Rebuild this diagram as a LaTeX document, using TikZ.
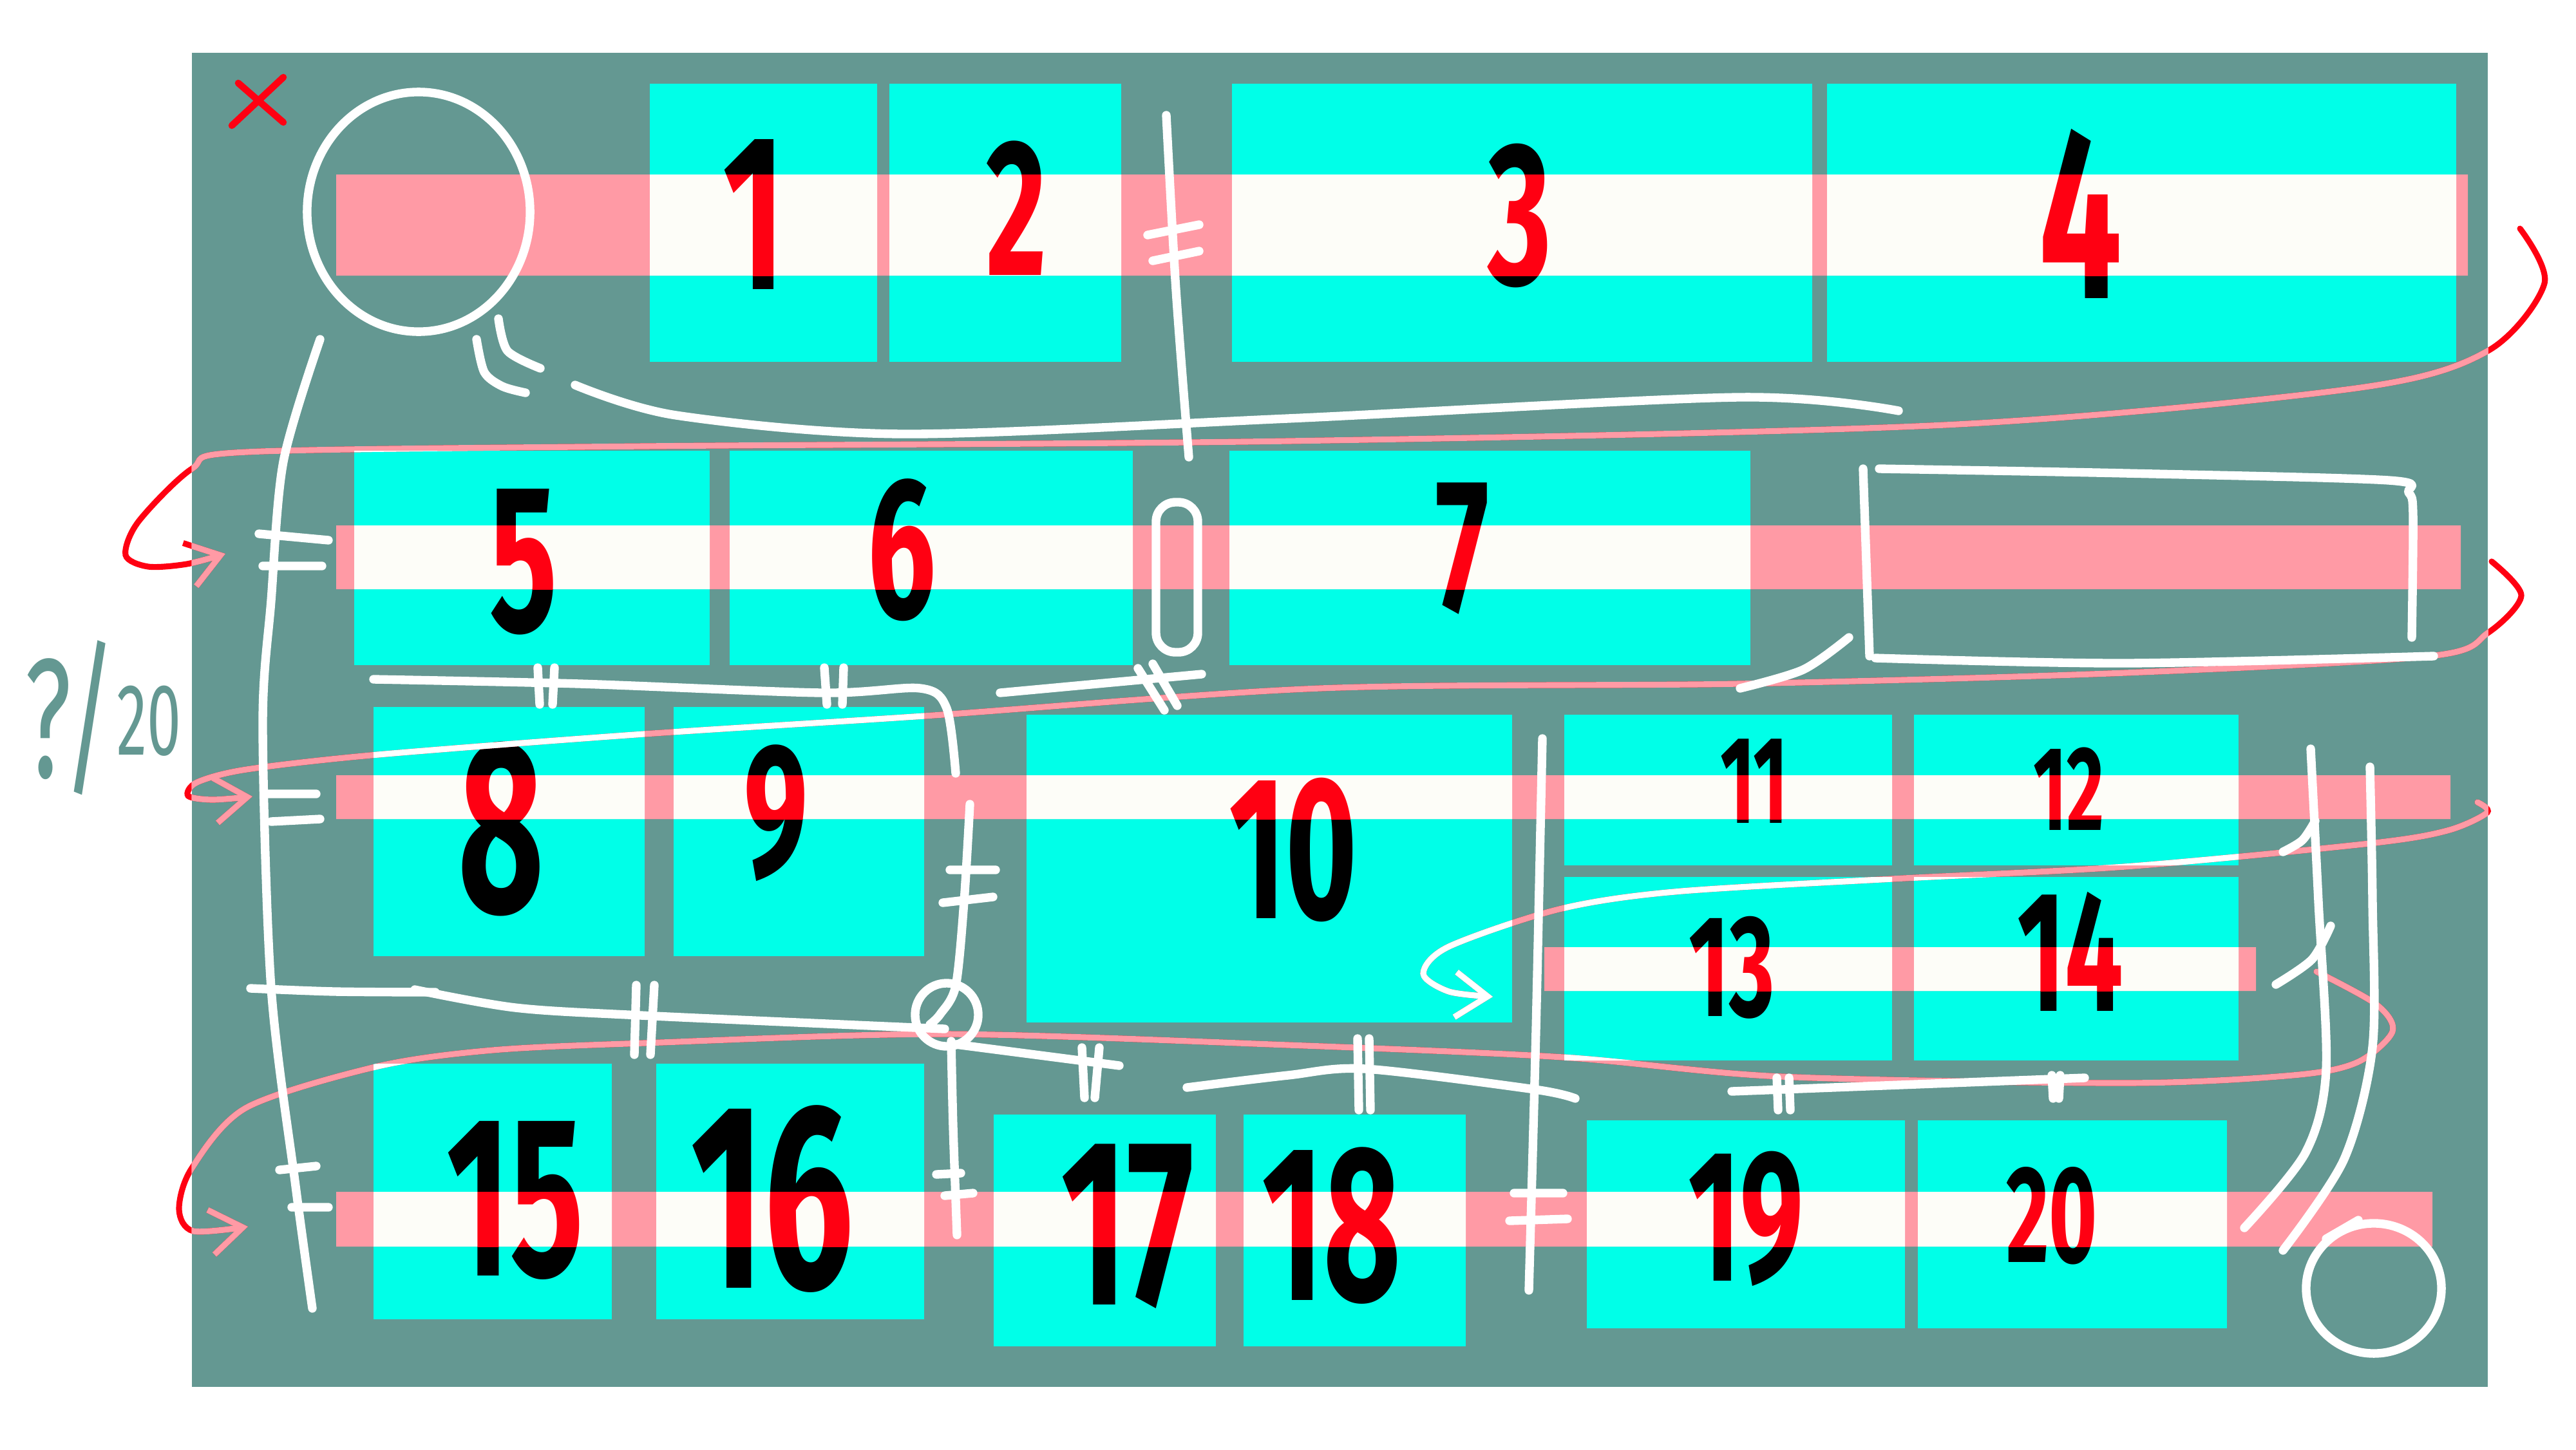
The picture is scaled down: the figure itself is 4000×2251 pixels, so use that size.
\documentclass[tikz,border=0pt]{standalone}
\usepackage{fontspec}
\setmainfont{Fira Sans}
\newfontfamily\handfont[FakeStretch=0.6]{Fira Sans}
\newfontfamily\notefont[FakeStretch=0.6]{Fira Sans}
\usepackage{tikz}
\usetikzlibrary{arrows.meta,fit}
\definecolor{flexTeal}{HTML}{649892}
\definecolor{flexCyan}{HTML}{00FFE8}
\definecolor{flexPink}{HTML}{FF9AA5}
\definecolor{flexPaper}{HTML}{FDFDF8}
\definecolor{flexRed}{HTML}{FF0012}
\tikzset{
  cell/.style={fill=flexCyan, inner sep=0pt, outer sep=0pt},
  num/.style={inner sep=0pt, outer sep=0pt},
  sketch/.style={draw=white, line width=3.8pt, line cap=round, line join=round},
  wrapline/.style={line width=2.6pt, line cap=round, -{Straight Barb[length=5mm, width=7mm]}},
}
% cross lines of the flex container
\newcommand{\bandlist}{522/271/3832/428, 522/816/3821/915, 522/1204/3805/1272, 2398/1471/3503/1539, 522/1851/3777/1936}
% item numbers, in a given colour
\newcommand{\cellnums}[1]{%
  \foreach \n/\x/\y/\s in {1/1170/333/98, 2/1578/323/86, 3/2360/335/90, 4/3231/332/108,
      5/813/873/93, 6/1400/854/89, 7/2271/852/84, 8/778/1287/109, 9/1205/1263/84,
      10/2008/1320/90, 11/2724/1213/55, 12/3212/1225/53, 13/2689/1503/64, 14/3215/1478/76,
      15/800/1864/101, 16/1199/1862/117, 17/1751/1905/105, 18/2068/1903/98,
      19/2711/1893/83, 20/3186/1888/61}
    \node[num, text=#1, font=\handfont\fontsize{\s}{\s}\selectfont\bfseries] (num\n#1) at (\x,\y) {\n};}
% wrapping arrows from one line to the next
\newcommand{\wraplines}{%
  \draw[wrapline] plot[smooth] coordinates {(w1a) (3951,440) (3863,545) (3658,603) (3020,660)
      (2000,685) (1000,693) (383,702) (298,728) (215,810) (195,862) (230,880) (290,876) (w1b)};
  \draw[wrapline] plot[smooth] coordinates {(w2a) (3915,925) (3863,983) (3773,1019) (3300,1045)
      (2700,1062) (2050,1069) (1435,1112) (1000,1140) (587,1172) (383,1195) (306,1215)
      (292,1236) (330,1242) (w2b)};
  \draw[wrapline] plot[smooth] coordinates {(w3a) (3862,1262) (3800,1290) (3679,1310) (3300,1346)
      (2938,1365) (2600,1385) (2421,1412) (2250,1470) (2210,1512) (2250,1540) (w3b)};
  \draw[wrapline] plot[smooth] coordinates {(w4a) (3690,1560) (3715,1602) (3660,1650) (3560,1670)
      (3300,1682) (2765,1672) (2427,1642) (2000,1623) (1467,1606) (1000,1620) (765,1631)
      (587,1656) (383,1720) (298,1814) (278,1878) (300,1912) (w4b)};
}

\begin{document}
\begin{tikzpicture}[x=0.01cm, y=-0.01cm]
  \useasboundingbox (0,0) rectangle (4000,2251);
  \node[fit={(298,82) (3863,2154)}, fill=flexTeal, inner sep=0pt] (panel) {};
  % flex items
  \foreach \n/\xa/\ya/\xb/\yb in {1/1009/130/1362/562, 2/1381/130/1741/562, 3/1913/130/2814/562,
      4/2837/130/3814/562, 5/550/700/1102/1033, 6/1133/700/1759/1033, 7/1909/700/2718/1033,
      8/580/1098/1001/1485, 9/1046/1098/1435/1485, 10/1594/1110/2348/1588,
      11/2429/1110/2938/1344, 12/2972/1110/3476/1344, 13/2429/1362/2938/1647,
      14/2972/1362/3476/1647, 15/580/1652/950/2049, 16/1019/1652/1435/2049,
      17/1543/1731/1888/2091, 18/1931/1731/2276/2091, 19/2464/1740/2958/2063,
      20/2978/1740/3458/2063}
    \node[cell, fit={(\xa,\ya) (\xb,\yb)}] (b\n) {};
  \fill[flexPink] \foreach \xa/\ya/\xb/\yb in \bandlist {(\xa,\ya) rectangle (\xb,\yb)};
  \cellnums{black}
  \begin{scope}
    \clip \foreach \xa/\ya/\xb/\yb in \bandlist {(\xa,\ya) rectangle (\xb,\yb)};
    \fill[flexPaper] \foreach \i in {1,...,20} {(b\i.north west) rectangle (b\i.south east)};
    \cellnums{flexRed}
  \end{scope}

  % wrapping
  \coordinate (w1a) at (3913,355);  \coordinate (w1b) at (350,860);
  \coordinate (w2a) at (3869,872);  \coordinate (w2b) at (392,1237);
  \coordinate (w3a) at (3847,1246); \coordinate (w3b) at (2318,1548);
  \coordinate (w4a) at (3597,1509); \coordinate (w4b) at (385,1905);
  \begin{scope}[color=flexRed] \wraplines \end{scope}
  \begin{scope}
    \clip (panel.north west) rectangle (panel.south east);
    \begin{scope}[color=flexPink] \wraplines \end{scope}
    \clip \foreach \i in {1,...,20} {(b\i.north west) rectangle (b\i.south east)};
    \begin{scope}[color=white] \wraplines \end{scope}
  \end{scope}

  % start and end marks
  \draw[sketch] (650,329) ellipse [x radius=1.73cm, y radius=1.86cm];
  \draw[sketch] plot[smooth] coordinates {(740,527) (752,578) (780,600) (816,610)};
  \draw[sketch] plot[smooth] coordinates {(774,495) (788,545) (839,572)};
  \draw[sketch] plot[smooth] coordinates {(893,598) (1050,645) (1403,674) (2000,650) (2700,617) (2948,638)};
  \draw[sketch] (3686,2001) ellipse [x radius=1.05cm, y radius=1.01cm];
  \draw[sketch] (3612,1924) -- (3662,1895);
  % gaps
  \draw[sketch] plot[smooth] coordinates {(1811,179) (1826,450) (1846,710)};
  \draw[sketch] (1782,365) -- (1862,349) (1790,405) -- (1862,390);
  \draw[sketch, rounded corners=0.3cm] (1795,780) rectangle (1860,1013);
  \draw[sketch] plot[smooth] coordinates {(497,527) (440,717) (421,933) (408,1125) (421,1534) (459,1842) (485,2032)};
  \draw[sketch] (402,829) -- (510,839) (408,879) -- (500,879) (415,1233) -- (491,1233)
    (421,1276) -- (497,1272) (434,1817) -- (491,1811) (453,1875) -- (510,1875);
  \draw[sketch] plot[smooth] coordinates {(580,1055) (900,1062) (1276,1076) (1429,1069) (1470,1100) (1484,1201)};
  \draw[sketch] (835,1037) -- (838,1094) (861,1037) -- (858,1094) (1280,1037) -- (1284,1094) (1310,1037) -- (1308,1094);
  \draw[sketch] (1553,1076) -- (1866,1047) (1767,1038) -- (1808,1103) (1790,1031) -- (1828,1096);
  \draw[sketch] plot[smooth] coordinates {(1506,1249) (1497,1400) (1484,1531) (1460,1575) (1444,1591)};
  \draw[sketch] (1475,1351) -- (1546,1351) (1464,1402) -- (1542,1393);
  \draw[sketch] (1470,1576) circle [radius=0.49cm];
  \draw[sketch] plot[smooth] coordinates {(389,1535) (520,1540) (676,1541)};
  \draw[sketch] plot[smooth] coordinates {(644,1537) (800,1565) (995,1577) (1467,1598)};
  \draw[sketch] (988,1530) -- (985,1638) (1016,1530) -- (1010,1638);
  \draw[sketch] (1484,1622) -- (1738,1655) (1680,1627) -- (1684,1705) (1707,1627) -- (1700,1705);
  \draw[sketch] plot[smooth] coordinates {(1477,1617) (1480,1750) (1486,1918)};
  \draw[sketch] (1454,1824) -- (1492,1822) (1467,1857) -- (1511,1853);
  \draw[sketch] plot[smooth] coordinates {(1843,1689) (2000,1670) (2120,1660) (2383,1692) (2446,1706)};
  \draw[sketch] (2108,1613) -- (2110,1724) (2126,1613) -- (2128,1724);
  \draw[sketch] plot[smooth] coordinates {(2395,1147) (2385,1600) (2374,2004)};
  \draw[sketch] (2351,1853) -- (2427,1853) (2344,1896) -- (2434,1893);
  \draw[sketch] (2689,1695) -- (3237,1674) (2759,1674) -- (2761,1724) (2778,1674) -- (2780,1724)
    (3186,1670) -- (3188,1706) (3199,1670) -- (3197,1706);
  % free space
  \draw[sketch] plot[smooth] coordinates {(2918,728) (3300,735) (3709,746) (3740,765) (3747,800) (3745,990)};
  \draw[sketch] (2893,728) -- (2903,1019);
  \draw[sketch] plot[smooth] coordinates {(2912,1022) (3300,1030) (3779,1019)};
  \draw[sketch] plot[smooth] coordinates {(2871,990) (2800,1040) (2702,1069)};
  \draw[sketch] plot[smooth] coordinates {(3588,1163) (3600,1400) (3612,1661) (3580,1790) (3485,1907)};
  \draw[sketch] plot[smooth] coordinates {(3680,1191) (3684,1400) (3684,1626) (3640,1800) (3545,1942)};
  \draw[sketch] plot[smooth] coordinates {(3545,1323) (3575,1305) (3595,1275)};
  \draw[sketch] plot[smooth] coordinates {(3534,1529) (3590,1490) (3619,1438)};

  \draw[flexRed, line width=3pt, line cap=round] (370,129) -- (440,190) (440,120) -- (360,195);
  \node[text=flexTeal, inner sep=0pt] (score) at (160,1115)
    {\notefont\fontsize{75}{75}\selectfont ?/\raisebox{10pt}{\fontsize{45}{45}\selectfont 20}};
\end{tikzpicture}
\end{document}
